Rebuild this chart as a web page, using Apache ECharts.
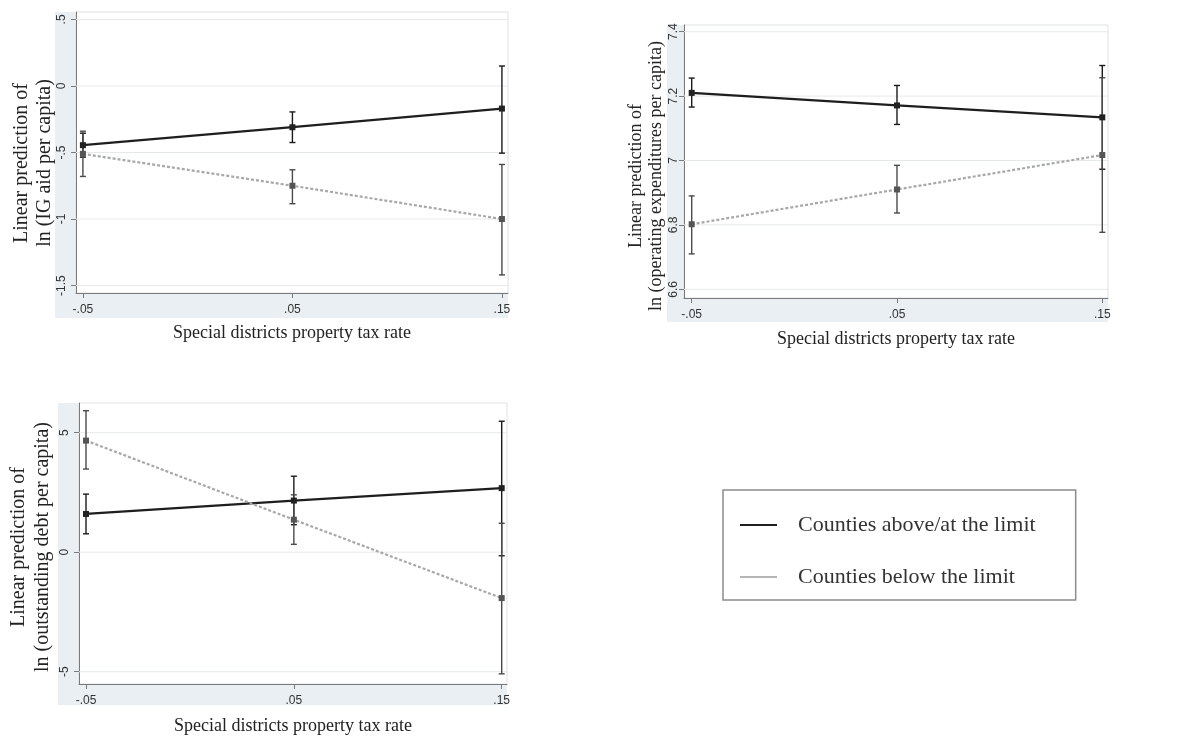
<!DOCTYPE html>
<html>
<head>
<meta charset="utf-8">
<script src="https://cdn.jsdelivr.net/npm/echarts@6/dist/echarts.min.js"></script>
<style>
html,body{margin:0;padding:0;background:#fff;}
#chart{width:1191px;height:751px;}
</style>
</head>
<body>
<div id="chart"></div>
<script>
// ---------- data ----------
var xValues = [-0.05, 0.05, 0.15];
var xTickLabels = ['-.05', '.05', '.15'];
var seriesNames = ['Counties above/at the limit', 'Counties below the limit'];

// Panel 1: ln (IG aid per capita)
var igAboveMean = [-0.445, -0.31, -0.17];
var igAboveLo   = [-0.535, -0.425, -0.505];
var igAboveHi   = [-0.355, -0.195, 0.15];
var igBelowMean = [-0.51, -0.75, -1.0];
var igBelowLo   = [-0.68, -0.885, -1.42];
var igBelowHi   = [-0.34, -0.63, -0.59];
var igYTicks = [0.5, 0, -0.5, -1, -1.5];
var igYLabels = ['.5', '0', '-.5', '-1', '-1.5'];

// Panel 2: ln (operating expenditures per capita)
var opAboveMean = [7.21, 7.171, 7.134];
var opAboveLo   = [7.166, 7.112, 6.973];
var opAboveHi   = [7.256, 7.233, 7.295];
var opBelowMean = [6.802, 6.91, 7.017];
var opBelowLo   = [6.71, 6.837, 6.777];
var opBelowHi   = [6.89, 6.985, 7.257];
var opYTicks = [7.4, 7.2, 7, 6.8, 6.6];
var opYLabels = ['7.4', '7.2', '7', '6.8', '6.6'];

// Panel 3: ln (outstanding debt per capita)
var dbAboveMean = [1.6, 2.16, 2.68];
var dbAboveLo   = [0.77, 1.15, -0.15];
var dbAboveHi   = [2.43, 3.18, 5.48];
var dbBelowMean = [4.67, 1.36, -1.92];
var dbBelowLo   = [3.48, 0.33, -5.09];
var dbBelowHi   = [5.92, 2.4, 1.21];
var dbYTicks = [5, 0, -5];
var dbYLabels = ['5', '0', '-5'];

var yTitles = [
  ['Linear prediction of', 'ln (IG aid per capita)'],
  ['Linear prediction of', 'ln (operating expenditures per capita)'],
  ['Linear prediction of', 'ln (outstanding debt per capita)']
];
var xTitle = 'Special districts property tax rate';

// ---------- layout ----------
var panels = [
  {grid:{left:76, top:12, width:432, height:281}, xMin:-0.0533, xMax:0.1529, yMin:-1.556, yMax:0.556,
   yTicks:igYTicks, yLabels:igYLabels, above:[igAboveMean, igAboveLo, igAboveHi], below:[igBelowMean, igBelowLo, igBelowHi],
   tint:[55, 12, 453, 306], titleX:[22, 45], titleY:163, titleSize:20, yMargin:8, nameGap:31},
  {grid:{left:684, top:25, width:424, height:273}, xMin:-0.05375, xMax:0.15278, yMin:6.573, yMax:7.4208,
   yTicks:opYTicks, yLabels:opYLabels, above:[opAboveMean, opAboveLo, opAboveHi], below:[opBelowMean, opBelowLo, opBelowHi],
   tint:[667, 25, 441, 297], titleX:[636, 656], titleY:176, titleSize:18, yMargin:4, nameGap:32},
  {grid:{left:79, top:403, width:428, height:281}, xMin:-0.05337, xMax:0.15255, yMin:-5.515, yMax:6.243,
   yTicks:dbYTicks, yLabels:dbYLabels, above:[dbAboveMean, dbAboveLo, dbAboveHi], below:[dbBelowMean, dbBelowLo, dbBelowHi],
   tint:[58, 403, 449, 302], titleX:[19, 43], titleY:547, titleSize:20, yMargin:8, nameGap:33}
];

function labelFor(ticks, labels) {
  return function (v) {
    for (var i = 0; i < ticks.length; i++) if (Math.abs(ticks[i] - v) < 1e-9) return labels[i];
    return '';
  };
}

var grids = [], xAxes = [], yAxes = [], series = [], graphics = [];
var tickFont = {fontFamily:'Liberation Sans', fontSize:12, color:'#333'};
var blackColor = '#1e1e1e', grayColor = '#a8a8a8';

panels.forEach(function (p, i) {
  grids.push({left:p.grid.left, top:p.grid.top, width:p.grid.width, height:p.grid.height,
    show:true, backgroundColor:'#ffffff', borderColor:'#dde1e3', borderWidth:1, containLabel:false});
  xAxes.push({type:'value', gridIndex:i, min:p.xMin, max:p.xMax,
    axisLine:{show:true, onZero:false, lineStyle:{color:'#7a7a7a', width:1}},
    axisTick:{show:true, inside:false, length:5, customValues:xValues, lineStyle:{color:'#7a7a7a'}},
    axisLabel:Object.assign({customValues:xValues, margin:11, formatter:labelFor(xValues, xTickLabels)}, tickFont),
    splitLine:{show:false},
    name:xTitle, nameLocation:'middle', nameGap:p.nameGap,
    nameTextStyle:{fontFamily:'Liberation Serif', fontSize:18, color:'#222'}});
  yAxes.push({type:'value', gridIndex:i, min:p.yMin, max:p.yMax,
    axisLine:{show:true, onZero:false, lineStyle:{color:'#7a7a7a', width:1}},
    axisTick:{show:true, inside:false, length:5, customValues:p.yTicks, lineStyle:{color:'#7a7a7a'}},
    axisLabel:Object.assign({customValues:p.yTicks, rotate:90, margin:p.yMargin, formatter:labelFor(p.yTicks, p.yLabels)}, tickFont),
    splitLine:{show:false}});

  // tinted graph region behind the axes
  graphics.push({type:'rect', z:-10, shape:{x:p.tint[0], y:p.tint[1], width:p.tint[2], height:p.tint[3]},
    style:{fill:'#e9eff2'}, silent:true});
  // y-axis titles
  graphics.push({type:'text', x:p.titleX[0], y:p.titleY, rotation:Math.PI/2,
    style:{text:yTitles[i][0], fontFamily:'Liberation Serif', fontSize:p.titleSize, fill:'#222', align:'center', verticalAlign:'middle'}});
  graphics.push({type:'text', x:p.titleX[1], y:p.titleY, rotation:Math.PI/2,
    style:{text:yTitles[i][1], fontFamily:'Liberation Serif', fontSize:p.titleSize, fill:'#222', align:'center', verticalAlign:'middle'}});

  // horizontal grid lines at y ticks
  series.push({type:'custom', xAxisIndex:i, yAxisIndex:i, silent:true, z:1,
    data:p.yTicks.map(function (t) { return [p.xMin, t]; }),
    renderItem:function (params, api) {
      var cs = params.coordSys;
      var y = api.coord([p.xMin, api.value(1)])[1];
      return {type:'line', shape:{x1:cs.x, y1:y, x2:cs.x + cs.width, y2:y},
        style:{stroke:'#e6e9eb', lineWidth:1}};
    }});

  [['above', blackColor, 'solid', '#222', '#1a1a1a'], ['below', grayColor, [3, 2], '#555', '#4a4a4a']].forEach(function (cfg, k) {
    var d = p[cfg[0]];
    // error bars
    series.push({type:'custom', xAxisIndex:i, yAxisIndex:i, silent:true, z:3,
      data:xValues.map(function (x, j) { return [x, d[1][j], d[2][j]]; }),
      renderItem:function (params, api) {
        var lo = api.coord([api.value(0), api.value(1)]);
        var hi = api.coord([api.value(0), api.value(2)]);
        var cap = 3;
        var st = {stroke:cfg[4], lineWidth:1.4};
        return {type:'group', children:[
          {type:'line', shape:{x1:lo[0], y1:lo[1], x2:hi[0], y2:hi[1]}, style:st},
          {type:'line', shape:{x1:lo[0]-cap, y1:lo[1], x2:lo[0]+cap, y2:lo[1]}, style:st},
          {type:'line', shape:{x1:hi[0]-cap, y1:hi[1], x2:hi[0]+cap, y2:hi[1]}, style:st}
        ]};
      }});
    // lines with markers
    series.push({type:'line', name:seriesNames[k], xAxisIndex:i, yAxisIndex:i, z:4,
      data:xValues.map(function (x, j) { return [x, d[0][j]]; }),
      symbol:'rect', symbolSize:6, showSymbol:true,
      color:cfg[1],
      lineStyle:{color:cfg[1], width:2.2, type:cfg[2]},
      itemStyle:{color:cfg[3]},
      emphasis:{disabled:true}, animation:false});
  });
});

var option = {
  backgroundColor:'#ffffff',
  animation:false,
  grid:grids,
  xAxis:xAxes,
  yAxis:yAxes,
  series:series,
  graphic:graphics,
  legend:{
    show:true, orient:'vertical', left:723, top:490,
    data:[
      {name:seriesNames[0], icon:'rect', itemStyle:{color:blackColor}},
      {name:seriesNames[1], icon:'rect', itemStyle:{color:'#b5b5b5'}}
    ],
    itemWidth:37, itemHeight:2, itemGap:28,
    padding:[23, 40, 11, 17],
    borderColor:'#8c8c8c', borderWidth:1.5, backgroundColor:'#ffffff',
    selectedMode:false,
    textStyle:{fontFamily:'Liberation Serif', fontSize:22, color:'#333', padding:[0,0,0,16], lineHeight:24}
  }
};

var chart = echarts.init(document.getElementById('chart'), null, {renderer:'canvas'});
chart.setOption(option);
</script>
</body>
</html>
